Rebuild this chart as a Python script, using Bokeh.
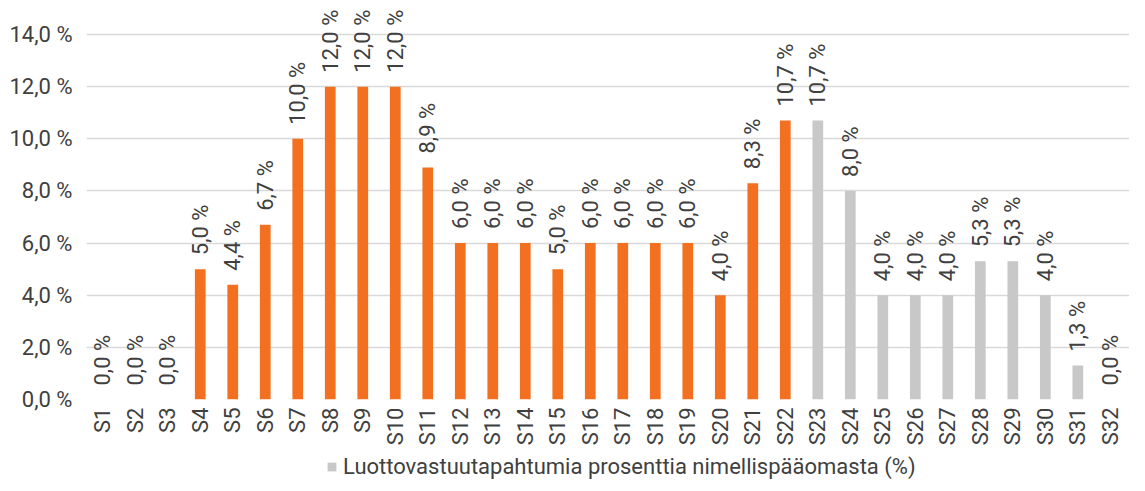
import math
from bokeh.plotting import figure
from bokeh.layouts import column
from bokeh.models import Range1d, FixedTicker, Legend, LegendItem, ColumnDataSource
from bokeh.core.properties import value
from bokeh.embed import file_html
from bokeh.resources import INLINE

categories = ["S1", "S2", "S3", "S4", "S5", "S6", "S7", "S8", "S9", "S10", "S11",
              "S12", "S13", "S14", "S15", "S16", "S17", "S18", "S19", "S20", "S21",
              "S22", "S23", "S24", "S25", "S26", "S27", "S28", "S29", "S30", "S31",
              "S32", "S33"]
values = [0.0, 0.0, 0.0, 5.0, 4.4, 6.7, 10.0, 12.0, 12.0, 12.0, 8.9,
          6.0, 6.0, 6.0, 5.0, 6.0, 6.0, 6.0, 6.0, 4.0, 8.3,
          10.7, 10.7, 8.0, 4.0, 4.0, 4.0, 5.3, 5.3, 4.0, 1.3,
          0.0, 0.0]
highlighted = categories[:22]   # orange bars
y_ticks = [0, 2, 4, 6, 8, 10, 12, 14]
y_tick_labels = ["0,0 %", "2,0 %", "4,0 %", "6,0 %", "8,0 %", "10,0 %", "12,0 %", "14,0 %"]
series_name = "Luottovastuutapahtumia prosenttia nimellispääomasta (%)"

ORANGE = "#F37021"
GREY = "#C8C8C8"
TEXT = "#404040"
FONT = "Roboto"
FS = "22px"

positions = list(range(1, len(categories) + 1))
hi_x = [x for x, c in zip(positions, categories) if c in highlighted]
hi_top = [v for v, c in zip(values, categories) if c in highlighted]
lo_x = [x for x, c in zip(positions, categories) if c not in highlighted]
lo_top = [v for v, c in zip(values, categories) if c not in highlighted]
label_texts = [f"{v:.1f} %".replace(".", ",") for v in values]

grey_src = ColumnDataSource(dict(x=lo_x, top=lo_top))

p = figure(frame_width=1043, frame_height=391,
           x_range=Range1d(0.5, 32.59), y_range=Range1d(0, 15.0),
           output_backend="svg", toolbar_location=None,
           min_border_left=86, min_border_right=0, min_border_top=8,
           min_border_bottom=0)
p.outline_line_color = None
p.background_fill_color = "white"

orange_r = p.vbar(x="x", top="top", width=0.33,
                  source=ColumnDataSource(dict(x=hi_x, top=hi_top)),
                  fill_color=ORANGE, line_color=None)
grey_r = p.vbar(x="x", top="top", width=0.33, source=grey_src,
                fill_color=GREY, line_color=None)

p.text(x="x", y="y", text="text",
       source=ColumnDataSource(dict(x=positions, y=values, text=label_texts)),
       angle=math.pi / 2, text_align="left", text_baseline="middle",
       y_offset=-14, text_font=value(FONT), text_font_size=FS, text_color=TEXT)

# x axis
p.xaxis.ticker = FixedTicker(ticks=positions)
p.xaxis.major_label_overrides = {x: c for x, c in zip(positions, categories)}
p.xaxis.major_label_orientation = math.pi / 2
p.xaxis.axis_line_color = None
p.xaxis.major_tick_line_color = None
p.xaxis.minor_tick_line_color = None
p.xaxis.major_tick_out = 0
p.xaxis.major_tick_in = 0
p.xaxis.major_label_standoff = 8
p.xaxis.major_label_text_font = FONT
p.xaxis.major_label_text_font_size = FS
p.xaxis.major_label_text_color = TEXT

# y axis
p.yaxis.ticker = FixedTicker(ticks=y_ticks)
p.yaxis.major_label_overrides = {t: l for t, l in zip(y_ticks, y_tick_labels)}
p.yaxis.axis_line_color = None
p.yaxis.major_tick_line_color = None
p.yaxis.minor_tick_line_color = None
p.yaxis.major_tick_out = 0
p.yaxis.major_tick_in = 0
p.yaxis.major_label_standoff = 14
p.yaxis.major_label_text_font = FONT
p.yaxis.major_label_text_font_size = FS
p.yaxis.major_label_text_color = TEXT

p.xgrid.grid_line_color = None
p.ygrid.ticker = FixedTicker(ticks=y_ticks)
p.ygrid.grid_line_color = "#D9D9D9"
p.ygrid.grid_line_width = 1.5

# legend strip below the chart
lp = figure(width=1129, height=31, x_range=Range1d(0, 1), y_range=Range1d(-2, -1),
            output_backend="svg", toolbar_location=None,
            x_axis_location=None, y_axis_location=None, min_border=0)
lp.outline_line_color = None
lp.xgrid.visible = False
lp.ygrid.visible = False
legend_r = lp.vbar(x="x", top="top", width=0.33, source=grey_src,
                   fill_color=GREY, line_color=None)
legend = Legend(items=[LegendItem(label=series_name, renderers=[legend_r])],
                location=(240, 0), orientation="horizontal",
                border_line_color=None, background_fill_alpha=0,
                padding=0, margin=0, glyph_width=11, glyph_height=11,
                label_standoff=6, label_text_font=FONT, label_text_font_size=FS,
                label_text_color=TEXT)
lp.add_layout(legend)

layout = column(p, lp)
open("out.html", "w").write(file_html(layout, INLINE))
